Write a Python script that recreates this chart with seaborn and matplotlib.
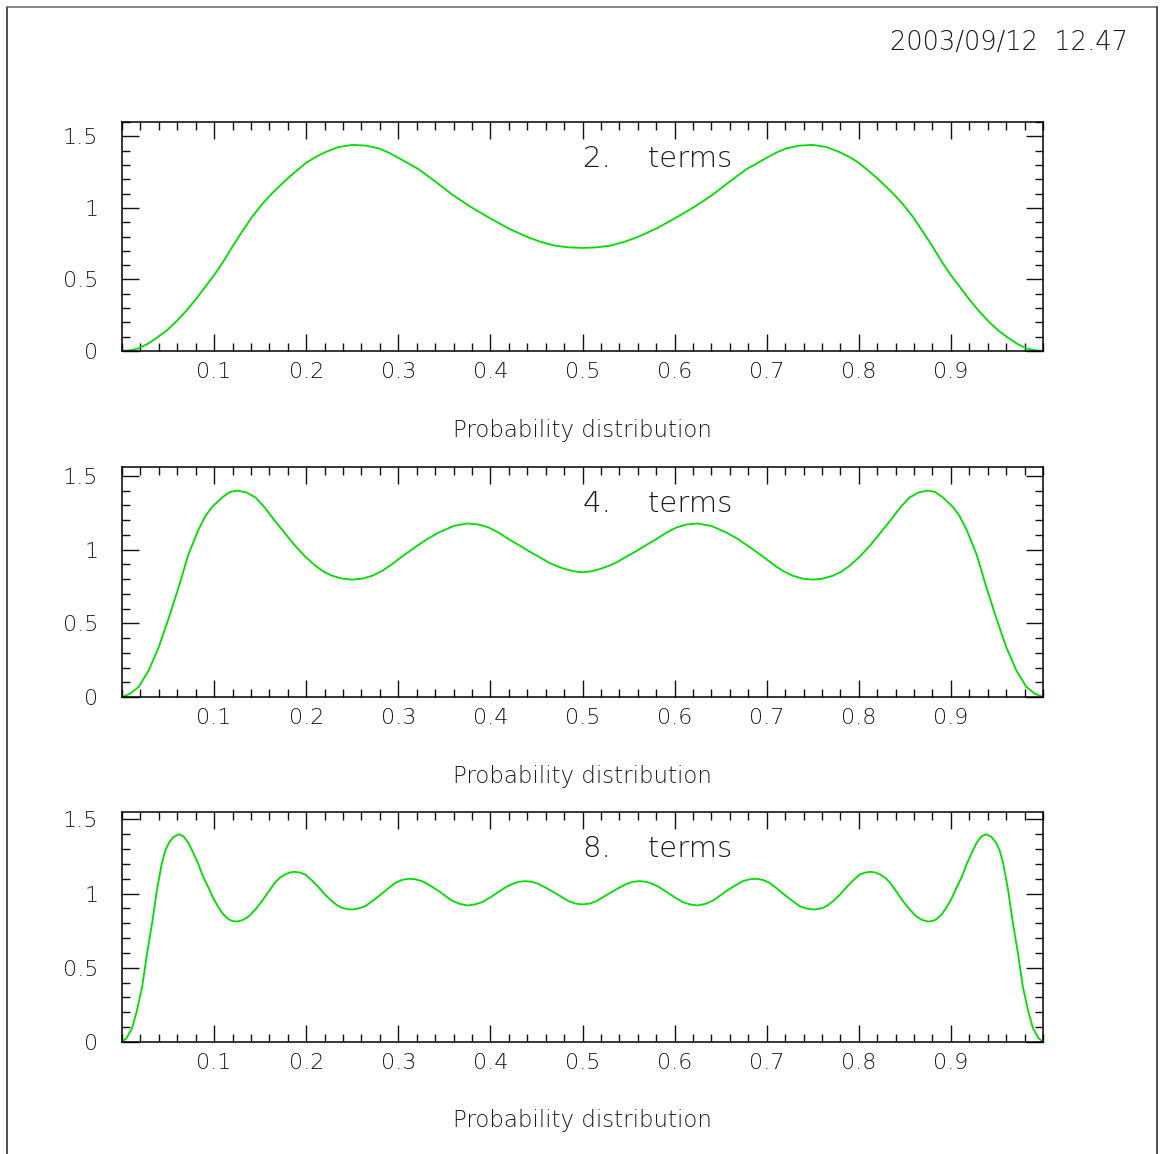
import numpy as np
import pandas as pd
import matplotlib
matplotlib.use("Agg")
import matplotlib.pyplot as plt
from matplotlib.lines import Line2D
from matplotlib.ticker import MultipleLocator, FixedLocator, FixedFormatter
import seaborn as sns

# ---------------- data ----------------
x_2terms = [0.000, 0.010, 0.018, 0.028, 0.038, 0.048, 0.058, 0.069, 0.080, 0.090,
            0.100, 0.110, 0.119, 0.130, 0.141, 0.152, 0.163, 0.172, 0.181, 0.190,
            0.200, 0.210, 0.221, 0.235, 0.250, 0.265, 0.279, 0.290, 0.300, 0.311,
            0.322, 0.340, 0.358, 0.379, 0.400, 0.420, 0.441, 0.455, 0.470, 0.485,
            0.500,
            0.515, 0.530, 0.545, 0.559, 0.580, 0.600, 0.621, 0.642, 0.660, 0.678,
            0.689, 0.700, 0.710, 0.721, 0.735, 0.750, 0.765, 0.779, 0.790, 0.800,
            0.810, 0.819, 0.828, 0.837, 0.848, 0.859, 0.870, 0.881, 0.890, 0.900,
            0.910, 0.920, 0.931, 0.942, 0.952, 0.962, 0.972, 0.982, 0.990, 1.000]
y_2terms = [0.000, 0.006, 0.019, 0.050, 0.093, 0.140, 0.200, 0.275, 0.360, 0.445,
            0.530, 0.625, 0.720, 0.830, 0.935, 1.025, 1.102, 1.158, 1.212, 1.262,
            1.315, 1.355, 1.390, 1.425, 1.440, 1.435, 1.415, 1.385, 1.350, 1.310,
            1.270, 1.185, 1.095, 1.005, 0.926, 0.855, 0.794, 0.762, 0.736, 0.724,
            0.720,
            0.724, 0.736, 0.762, 0.794, 0.855, 0.926, 1.005, 1.095, 1.185, 1.270,
            1.310, 1.350, 1.385, 1.415, 1.435, 1.440, 1.425, 1.390, 1.355, 1.315,
            1.262, 1.212, 1.158, 1.102, 1.025, 0.935, 0.830, 0.720, 0.625, 0.530,
            0.445, 0.360, 0.275, 0.200, 0.140, 0.093, 0.050, 0.019, 0.006, 0.000]

x_4terms = [0.000, 0.009, 0.018, 0.029, 0.040, 0.051, 0.062, 0.072, 0.083, 0.091,
            0.098, 0.109, 0.117, 0.125, 0.135, 0.145, 0.155, 0.166, 0.177, 0.188,
            0.199, 0.210, 0.219, 0.228, 0.239, 0.250, 0.261, 0.272, 0.283, 0.293,
            0.305, 0.318, 0.331, 0.344, 0.360, 0.375, 0.387, 0.398, 0.409, 0.420,
            0.431, 0.442, 0.453, 0.463, 0.472, 0.481, 0.491, 0.500,
            0.509, 0.519, 0.528, 0.537, 0.547, 0.558, 0.569, 0.580, 0.591, 0.602,
            0.613, 0.625, 0.640, 0.656, 0.669, 0.682, 0.695, 0.707, 0.717, 0.728,
            0.739, 0.750, 0.761, 0.772, 0.781, 0.790, 0.801, 0.812, 0.823, 0.834,
            0.845, 0.855, 0.865, 0.875, 0.883, 0.891, 0.902, 0.909, 0.917, 0.928,
            0.938, 0.949, 0.960, 0.971, 0.982, 0.991, 1.000]
y_4terms = [0.000, 0.023, 0.068, 0.180, 0.340, 0.540, 0.755, 0.965, 1.135, 1.232,
            1.290, 1.355, 1.390, 1.400, 1.388, 1.353, 1.285, 1.195, 1.110, 1.026,
            0.952, 0.890, 0.850, 0.823, 0.803, 0.796, 0.803, 0.823, 0.857, 0.900,
            0.957, 1.015, 1.070, 1.116, 1.160, 1.177, 1.170, 1.150, 1.115, 1.070,
            1.030, 0.988, 0.950, 0.913, 0.888, 0.868, 0.852, 0.846,
            0.852, 0.868, 0.888, 0.913, 0.950, 0.988, 1.030, 1.070, 1.115, 1.150,
            1.170, 1.177, 1.160, 1.116, 1.070, 1.015, 0.957, 0.900, 0.857, 0.823,
            0.803, 0.796, 0.803, 0.823, 0.850, 0.890, 0.952, 1.026, 1.110, 1.195,
            1.285, 1.353, 1.388, 1.400, 1.390, 1.355, 1.290, 1.232, 1.135, 0.965,
            0.755, 0.540, 0.340, 0.180, 0.068, 0.023, 0.000]

x_8terms = [0.000, 0.005, 0.011, 0.016, 0.022, 0.027, 0.033, 0.038, 0.043, 0.047,
            0.051, 0.056, 0.062, 0.067, 0.072, 0.077, 0.083, 0.088, 0.094, 0.099,
            0.105, 0.110, 0.116, 0.120, 0.125, 0.131, 0.138, 0.145, 0.152, 0.159,
            0.166, 0.171, 0.177, 0.182, 0.187, 0.193, 0.199, 0.206, 0.214, 0.221,
            0.228, 0.234, 0.239, 0.245, 0.250, 0.257, 0.264, 0.273, 0.282, 0.290,
            0.297, 0.304, 0.311, 0.318, 0.326, 0.335, 0.344, 0.351, 0.358, 0.366,
            0.375, 0.383, 0.391, 0.400, 0.409, 0.417, 0.425, 0.431, 0.438, 0.445,
            0.452, 0.461, 0.470, 0.478, 0.485, 0.492, 0.500,
            0.508, 0.515, 0.522, 0.530, 0.539, 0.548, 0.555, 0.562, 0.569, 0.575,
            0.583, 0.591, 0.600, 0.609, 0.617, 0.625, 0.634, 0.642, 0.649, 0.656,
            0.665, 0.674, 0.682, 0.689, 0.696, 0.703, 0.710, 0.718, 0.727, 0.736,
            0.743, 0.750, 0.755, 0.761, 0.766, 0.772, 0.779, 0.786, 0.794, 0.801,
            0.807, 0.813, 0.818, 0.823, 0.829, 0.834, 0.841, 0.848, 0.855, 0.862,
            0.869, 0.875, 0.880, 0.884, 0.890, 0.895, 0.901, 0.906, 0.912, 0.917,
            0.923, 0.928, 0.933, 0.938, 0.944, 0.949, 0.953, 0.957, 0.962, 0.967,
            0.973, 0.978, 0.984, 0.989, 0.995, 1.000]
y_8terms = [0.000, 0.027, 0.094, 0.207, 0.376, 0.590, 0.814, 1.028, 1.197, 1.290,
            1.343, 1.382, 1.400, 1.385, 1.343, 1.280, 1.197, 1.115, 1.039, 0.970,
            0.904, 0.860, 0.826, 0.815, 0.812, 0.822, 0.848, 0.895, 0.949, 1.012,
            1.073, 1.105, 1.129, 1.142, 1.147, 1.142, 1.129, 1.090, 1.039, 0.990,
            0.949, 0.920, 0.904, 0.895, 0.893, 0.900, 0.915, 0.955, 0.999, 1.040,
            1.073, 1.092, 1.100, 1.097, 1.084, 1.052, 1.017, 0.985, 0.954, 0.932,
            0.920, 0.927, 0.942, 0.975, 1.012, 1.045, 1.068, 1.080, 1.084, 1.080,
            1.066, 1.037, 1.005, 0.975, 0.949, 0.933, 0.927,
            0.933, 0.949, 0.975, 1.005, 1.037, 1.066, 1.080, 1.084, 1.080, 1.068,
            1.045, 1.012, 0.975, 0.942, 0.927, 0.920, 0.932, 0.954, 0.985, 1.017,
            1.052, 1.084, 1.097, 1.100, 1.092, 1.073, 1.040, 0.999, 0.955, 0.915,
            0.900, 0.893, 0.895, 0.904, 0.920, 0.949, 0.990, 1.039, 1.090, 1.129,
            1.142, 1.147, 1.142, 1.129, 1.105, 1.073, 1.012, 0.949, 0.895, 0.848,
            0.822, 0.812, 0.815, 0.826, 0.860, 0.904, 0.970, 1.039, 1.115, 1.197,
            1.280, 1.343, 1.385, 1.400, 1.382, 1.343, 1.290, 1.197, 1.028, 0.814,
            0.590, 0.376, 0.207, 0.094, 0.027, 0.000]

panel_labels = ["2.    terms", "4.    terms", "8.    terms"]
y_max = [1.6, 1.56, 1.55]
x_tick_vals = [0.1, 0.2, 0.3, 0.4, 0.5, 0.6, 0.7, 0.8, 0.9]
x_tick_labels = ["0.1", "0.2", "0.3", "0.4", "0.5", "0.6", "0.7", "0.8", "0.9"]
y_tick_vals = [0, 0.5, 1, 1.5]
y_tick_labels = ["0", "0.5", "1", "1.5"]
x_title = "Probability distribution"
timestamp = "2003/09/12  12.47"

# ---------------- figure ----------------
sns.set_style("white")
plt.rcParams["font.family"] = ["DejaVu Sans"]
plt.rcParams["font.weight"] = "light"
plt.rcParams["axes.labelweight"] = "light"
TXT = "#1a1a1a"
GREEN = "#00dd00"

W, H = 1160, 1154
fig = plt.figure(figsize=(W / 100, H / 100), dpi=100)

# axes boxes in pixels: (left, top, right, bottom)
boxes = [(122, 122, 1043, 351), (122, 467, 1043, 697), (122, 812, 1043, 1042)]
series = [(x_2terms, y_2terms), (x_4terms, y_4terms), (x_8terms, y_8terms)]

for i, ((l, t, r, b), (xs, ys)) in enumerate(zip(boxes, series)):
    ax = fig.add_axes([l / W, 1 - b / H, (r - l) / W, (b - t) / H])
    df = pd.DataFrame({"x": xs, "y": ys})
    sns.lineplot(data=df, x="x", y="y", ax=ax, color=GREEN, linewidth=1.3,
                 sort=False, estimator=None)
    ax.set_xlim(0, 1)
    ax.set_ylim(0, y_max[i])
    ax.xaxis.set_major_locator(FixedLocator(x_tick_vals))
    ax.xaxis.set_major_formatter(FixedFormatter(x_tick_labels))
    ax.xaxis.set_minor_locator(MultipleLocator(0.02))
    ax.yaxis.set_major_locator(FixedLocator(y_tick_vals))
    ax.yaxis.set_major_formatter(FixedFormatter(y_tick_labels))
    ax.yaxis.set_minor_locator(MultipleLocator(0.1))
    ax.tick_params(which="both", direction="in", top=True, right=True,
                   bottom=True, left=True, color="#111111", width=1.0)
    ax.tick_params(which="major", length=12, labelsize=16, labelcolor=TXT)
    ax.tick_params(which="minor", length=6)
    ax.tick_params(axis="x", which="major", pad=8)
    ax.tick_params(axis="y", which="major", pad=17)
    for s in ax.spines.values():
        s.set_visible(True)
        s.set_color("black")
        s.set_linewidth(1.1)
    ax.set_ylabel("")
    ax.set_xlabel(x_title, fontsize=16.5, color=TXT, va="center",
                  fontweight="light")
    ax.xaxis.set_label_coords(0.5, -79 / (b - t))
    ax.text(0.5005, 0.84, panel_labels[i], transform=ax.transAxes,
            fontsize=21, color=TXT, ha="left", va="center", fontweight="light")

fig.text(1128 / W, 1 - 43 / H, timestamp, fontsize=18.5, color=TXT,
         ha="right", va="center", fontweight="light")

# outer frame (left, top, right)
fig.add_artist(Line2D([6.5 / W, 6.5 / W], [0, 1 - 6.5 / H], color="#222222", lw=1.1))
fig.add_artist(Line2D([6.5 / W, 1157 / W], [1 - 6.5 / H, 1 - 6.5 / H], color="#666666", lw=1.1))
fig.add_artist(Line2D([1157 / W, 1157 / W], [0, 1 - 6.5 / H], color="#222222", lw=1.1))

fig.savefig("out.png", dpi=100)
